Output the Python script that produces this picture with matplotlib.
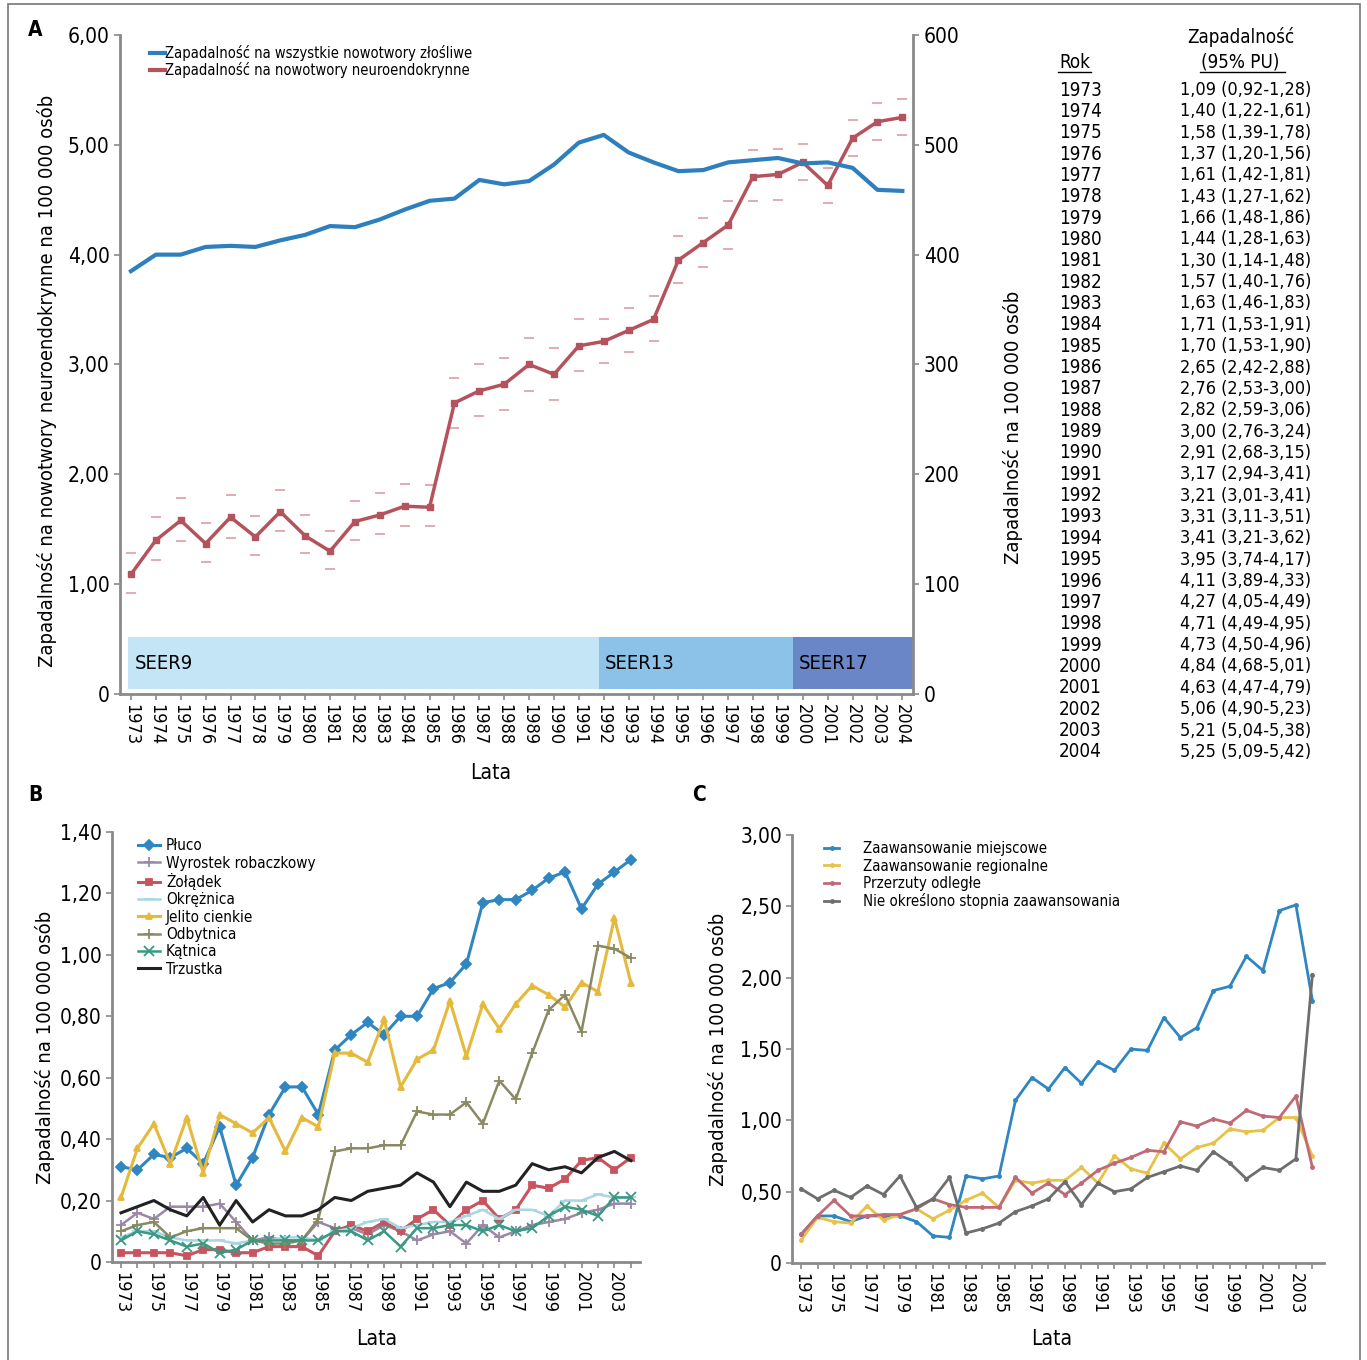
import numpy as np
import matplotlib
matplotlib.use('Agg')
import matplotlib.pyplot as plt
from matplotlib.lines import Line2D
from matplotlib.patches import Rectangle
from matplotlib.ticker import FuncFormatter

plt.rcParams['font.family'] = ['DejaVu Sans']
plt.rcParams['font.stretch'] = 'condensed'

years = list(range(1973, 2005))

# --- Panel A: zapadalnosc NET (lewa os) i wszystkie nowotwory (prawa os)
net_rate = [1.09, 1.40, 1.58, 1.37, 1.61, 1.43, 1.66, 1.44, 1.30, 1.57, 1.63, 1.71, 1.70, 2.65, 2.76, 2.82,
            3.00, 2.91, 3.17, 3.21, 3.31, 3.41, 3.95, 4.11, 4.27, 4.71, 4.73, 4.84, 4.63, 5.06, 5.21, 5.25]
net_low = [0.92, 1.22, 1.39, 1.20, 1.42, 1.27, 1.48, 1.28, 1.14, 1.40, 1.46, 1.53, 1.53, 2.42, 2.53, 2.59,
           2.76, 2.68, 2.94, 3.01, 3.11, 3.21, 3.74, 3.89, 4.05, 4.49, 4.50, 4.68, 4.47, 4.90, 5.04, 5.09]
net_high = [1.28, 1.61, 1.78, 1.56, 1.81, 1.62, 1.86, 1.63, 1.48, 1.76, 1.83, 1.91, 1.90, 2.88, 3.00, 3.06,
            3.24, 3.15, 3.41, 3.41, 3.51, 3.62, 4.17, 4.33, 4.49, 4.95, 4.96, 5.01, 4.79, 5.23, 5.38, 5.42]
all_rate = [385, 400, 400, 407, 408, 407, 413, 418, 426, 425, 432, 441, 449, 451, 468, 464,
            467, 482, 502, 509, 493, 484, 476, 477, 484, 486, 488, 483, 484, 479, 459, 458]

seer_names = ['SEER9', 'SEER13', 'SEER17']
seer_starts = [1972.9, 1991.8, 1999.6]
seer_ends = [1991.8, 1999.6, 2004.44]
seer_colors = ['#c4e5f6', '#8cc2e8', '#6b86c6']

# --- Panel B: lokalizacje
b_series = {
    'Płuco': [0.31, 0.30, 0.35, 0.34, 0.37, 0.32, 0.44, 0.25, 0.34, 0.48, 0.57, 0.57, 0.48, 0.69, 0.74, 0.78,
              0.74, 0.80, 0.80, 0.89, 0.91, 0.97, 1.17, 1.18, 1.18, 1.21, 1.25, 1.27, 1.15, 1.23, 1.27, 1.31],
    'Wyrostek robaczkowy': [0.12, 0.16, 0.14, 0.18, 0.18, 0.18, 0.19, 0.13, 0.07, 0.08, 0.07, 0.07, 0.13, 0.11, 0.11, 0.09,
                            0.12, 0.10, 0.07, 0.09, 0.10, 0.06, 0.12, 0.08, 0.10, 0.12, 0.13, 0.14, 0.16, 0.17, 0.19, 0.19],
    'Żołądek': [0.03, 0.03, 0.03, 0.03, 0.02, 0.04, 0.04, 0.03, 0.03, 0.05, 0.05, 0.05, 0.02, 0.10, 0.12, 0.10,
                0.13, 0.10, 0.14, 0.17, 0.12, 0.17, 0.20, 0.14, 0.17, 0.25, 0.24, 0.27, 0.33, 0.34, 0.30, 0.34],
    'Okrężnica': [0.08, 0.10, 0.10, 0.08, 0.07, 0.07, 0.07, 0.06, 0.07, 0.07, 0.08, 0.08, 0.07, 0.10, 0.11, 0.13,
                  0.14, 0.11, 0.12, 0.13, 0.13, 0.15, 0.17, 0.14, 0.17, 0.17, 0.15, 0.20, 0.20, 0.22, 0.21, 0.21],
    'Jelito cienkie': [0.21, 0.37, 0.45, 0.32, 0.47, 0.29, 0.48, 0.45, 0.42, 0.47, 0.36, 0.47, 0.44, 0.68, 0.68, 0.65,
                       0.79, 0.57, 0.66, 0.69, 0.85, 0.67, 0.84, 0.76, 0.84, 0.90, 0.87, 0.83, 0.91, 0.88, 1.12, 0.91],
    'Odbytnica': [0.10, 0.12, 0.13, 0.08, 0.10, 0.11, 0.11, 0.11, 0.07, 0.06, 0.06, 0.07, 0.14, 0.36, 0.37, 0.37,
                  0.38, 0.38, 0.49, 0.48, 0.48, 0.52, 0.45, 0.59, 0.53, 0.68, 0.82, 0.87, 0.75, 1.03, 1.02, 0.99],
    'Kątnica': [0.07, 0.10, 0.09, 0.07, 0.05, 0.06, 0.03, 0.04, 0.07, 0.07, 0.07, 0.07, 0.07, 0.10, 0.10, 0.07,
                0.10, 0.05, 0.11, 0.11, 0.12, 0.12, 0.10, 0.12, 0.10, 0.11, 0.15, 0.18, 0.17, 0.15, 0.21, 0.21],
    'Trzustka': [0.16, 0.18, 0.20, 0.17, 0.15, 0.21, 0.12, 0.20, 0.13, 0.17, 0.15, 0.15, 0.17, 0.21, 0.20, 0.23,
                 0.24, 0.25, 0.29, 0.26, 0.18, 0.26, 0.23, 0.23, 0.25, 0.32, 0.30, 0.31, 0.29, 0.34, 0.36, 0.33],
}
b_colors = ['#2f86c0', '#9a88a6', '#c8545f', '#a8d6e2', '#e5b93c', '#8a8a62', '#3b9882', '#222222']
b_markers = ['D', '+', 's', '_', '^', '+', 'x', None]

# --- Panel C: stopien zaawansowania
c_series = {
    'Zaawansowanie miejscowe': [0.20, 0.33, 0.33, 0.29, 0.33, 0.33, 0.33, 0.29, 0.19, 0.18, 0.61, 0.59, 0.61, 1.14, 1.30, 1.22,
                                1.37, 1.26, 1.41, 1.35, 1.50, 1.49, 1.72, 1.58, 1.65, 1.91, 1.94, 2.15, 2.05, 2.47, 2.51, 1.84],
    'Zaawansowanie regionalne': [0.16, 0.32, 0.29, 0.28, 0.40, 0.30, 0.34, 0.38, 0.31, 0.37, 0.44, 0.49, 0.39, 0.58, 0.56, 0.58,
                                 0.58, 0.67, 0.56, 0.75, 0.66, 0.63, 0.84, 0.73, 0.81, 0.84, 0.94, 0.92, 0.93, 1.02, 1.02, 0.75],
    'Przerzuty odległe': [0.20, 0.33, 0.44, 0.33, 0.33, 0.34, 0.34, 0.38, 0.45, 0.41, 0.39, 0.39, 0.39, 0.60, 0.49, 0.56,
                          0.48, 0.56, 0.65, 0.70, 0.74, 0.79, 0.78, 0.99, 0.96, 1.01, 0.98, 1.07, 1.03, 1.02, 1.17, 0.67],
    'Nie określono stopnia zaawansowania': [0.52, 0.45, 0.51, 0.46, 0.54, 0.48, 0.61, 0.39, 0.45, 0.60, 0.21, 0.24, 0.28, 0.36, 0.40, 0.45,
                                            0.57, 0.41, 0.56, 0.50, 0.52, 0.60, 0.64, 0.68, 0.65, 0.78, 0.70, 0.59, 0.67, 0.65, 0.73, 2.02],
}
c_colors = ['#2f86c0', '#e8c146', '#c06a78', '#6e6e6e']

axis_gray = '#8a8a8a'
tick_fs = 15
label_fs = 14.5


def comma_fmt(v, p):
    if abs(v) < 1e-9:
        return '0'
    return f'{v:.2f}'.replace('.', ',')


def style_axis(ax):
    for s in ['top', 'right']:
        ax.spines[s].set_visible(False)
    for s in ['left', 'bottom']:
        ax.spines[s].set_color(axis_gray)
        ax.spines[s].set_linewidth(2)
    ax.tick_params(axis='both', which='both', color=axis_gray, length=4, width=1.2, labelsize=tick_fs)


fig = plt.figure(figsize=(13.67, 13.60), dpi=100)

# ================= A =================
axA = fig.add_axes([0.0878, 0.4897, 0.5803, 0.4846])
style_axis(axA)
for name, x0, x1, col in zip(seer_names, seer_starts, seer_ends, seer_colors):
    axA.add_patch(Rectangle((x0, 0.05), x1 - x0, 0.47, facecolor=col, edgecolor='none', zorder=1))
    axA.text(x0 + 0.25, 0.28, name, fontsize=14.5, va='center', ha='left', zorder=2)

axA.plot(years, net_rate, color='#b5535d', lw=2.5, marker='s', ms=5, zorder=4)
axA.plot(years, net_low, ls='none', marker='_', ms=7, mew=1.3, color='#e0a6ab', zorder=3)
axA.plot(years, net_high, ls='none', marker='_', ms=7, mew=1.3, color='#e0a6ab', zorder=3)
axA.set_xlim(1972.56, 2004.44)
axA.set_ylim(0, 6)
axA.set_yticks(np.arange(0, 6.01, 1))
axA.yaxis.set_major_formatter(FuncFormatter(comma_fmt))
axA.set_xticks(years)
axA.set_xticklabels([str(y) for y in years], rotation=270, fontsize=13)
axA.set_ylabel('Zapadalność na nowotwory neuroendokrynne na 100 000 osób', fontsize=label_fs)
axA.yaxis.set_label_coords(-0.08, 0.475)
axA.set_xlabel('Lata', fontsize=15)
axA.xaxis.set_label_coords(0.467, -0.105)

axA2 = axA.twinx()
axA2.spines['top'].set_visible(False)
axA2.spines['left'].set_visible(False)
axA2.spines['bottom'].set_visible(False)
axA2.spines['right'].set_color(axis_gray)
axA2.spines['right'].set_linewidth(2)
axA2.tick_params(axis='y', color=axis_gray, length=4, width=1.2, labelsize=tick_fs)
axA2.plot(years, all_rate, color='#2e7fbd', lw=3, zorder=5)
axA2.set_ylim(0, 600)
axA2.set_yticks(np.arange(0, 601, 100))
axA2.set_ylabel('Zapadalność na 100 000 osób', fontsize=label_fs)
axA2.yaxis.set_label_coords(1.113, 0.404)

legA = [Line2D([0], [0], color='#2e7fbd', lw=3), Line2D([0], [0], color='#b5535d', lw=3)]
axA.legend(legA, ['Zapadalność na wszystkie nowotwory złośliwe', 'Zapadalność na nowotwory neuroendokrynne'],
           loc='upper left', bbox_to_anchor=(0.025, 1.0), frameon=False, fontsize=10.5,
           handlelength=1.0, handletextpad=0.05, labelspacing=0.05, borderpad=0.2)

# tabela
tab_fs = 13.5
fig.text(1241 / 1367, 1 - 37 / 1360, 'Zapadalność', fontsize=tab_fs, ha='center', va='center')
fig.text(1059 / 1367, 1 - 62 / 1360, 'Rok', fontsize=tab_fs, ha='left', va='center')
fig.text(1201 / 1367, 1 - 62 / 1360, '(95% PU)', fontsize=tab_fs, ha='left', va='center')
fig.add_artist(Line2D([1058 / 1367, 1091 / 1367], [1 - 72 / 1360] * 2, color='black', lw=1))
fig.add_artist(Line2D([1200 / 1367, 1285 / 1367], [1 - 72 / 1360] * 2, color='black', lw=1))
for i, y in enumerate(years):
    ypos = 1 - (90 + i * 21.35) / 1360
    fig.text(1059 / 1367, ypos, str(y), fontsize=tab_fs, ha='left', va='center')
    s = f'{net_rate[i]:.2f} ({net_low[i]:.2f}-{net_high[i]:.2f})'.replace('.', ',')
    fig.text(1180 / 1367, ypos, s, fontsize=tab_fs - 0.5, ha='left', va='center')

# ================= B =================
axB = fig.add_axes([0.0819, 0.0721, 0.3862, 0.3161])
style_axis(axB)
handlesB = []
for (name, vals), col, mk in zip(b_series.items(), b_colors, b_markers):
    lw = 2.2 if name in ('Płuco', 'Jelito cienkie', 'Trzustka', 'Żołądek') else 1.8
    ms = 5 if mk in ('D', 's', '^') else 7
    h, = axB.plot(years, vals, color=col, lw=lw, marker=mk, ms=ms, mew=1.3, label=name)
    handlesB.append(h)
axB.set_xlim(1972.45, 2004.55)
axB.set_ylim(0, 1.4)
axB.set_yticks(np.arange(0, 1.41, 0.2))
axB.yaxis.set_major_formatter(FuncFormatter(comma_fmt))
axB.set_xticks(years[::2])
axB.set_xticks(years, minor=True)
axB.set_xticklabels([str(y) for y in years[::2]], rotation=270, fontsize=13)
axB.set_ylabel('Zapadalność na 100 000 osób', fontsize=label_fs)
axB.yaxis.set_label_coords(-0.108, 0.5)
axB.set_xlabel('Lata', fontsize=15)
axB.xaxis.set_label_coords(0.502, -0.155)
axB.legend(handles=handlesB, loc='upper left', bbox_to_anchor=(0.03, 1.01), frameon=False, fontsize=11,
           handlelength=1.4, handletextpad=0.4, labelspacing=0.15, borderpad=0.2)

# ================= C =================
axC = fig.add_axes([0.5797, 0.0713, 0.3888, 0.3147])
style_axis(axC)
handlesC = []
for (name, vals), col in zip(c_series.items(), c_colors):
    h, = axC.plot(years, vals, color=col, lw=2, marker='.', ms=5, label=name)
    handlesC.append(h)
axC.set_xlim(1972.48, 2004.7)
axC.set_ylim(0, 3)
axC.set_yticks(np.arange(0, 3.01, 0.5))
axC.yaxis.set_major_formatter(FuncFormatter(comma_fmt))
axC.set_xticks(years[::2])
axC.set_xticks(years, minor=True)
axC.set_xticklabels([str(y) for y in years[::2]], rotation=270, fontsize=13)
axC.set_ylabel('Zapadalność na 100 000 osób', fontsize=label_fs)
axC.yaxis.set_label_coords(-0.121, 0.5)
axC.set_xlabel('Lata', fontsize=15)
axC.xaxis.set_label_coords(0.488, -0.155)
axC.legend(handles=handlesC, loc='upper left', bbox_to_anchor=(0.04, 1.01), frameon=False, fontsize=10.8,
           handlelength=1.0, handletextpad=1.6, labelspacing=0.15, borderpad=0.2)

# litery paneli
fig.text(35 / 1367, 1 - 30 / 1360, 'A', fontsize=15, fontweight='bold', ha='center', va='center')
fig.text(35 / 1367, 1 - 795 / 1360, 'B', fontsize=15, fontweight='bold', ha='center', va='center')
fig.text(699 / 1367, 1 - 795 / 1360, 'C', fontsize=15, fontweight='bold', ha='center', va='center')

# ramka
fig.add_artist(Rectangle((8 / 1367, -0.01), 1352 / 1367, 1.01 - 4 / 1360, transform=fig.transFigure,
                         fill=False, edgecolor='#777777', lw=1.2))

fig.savefig('out.png', dpi=100)
